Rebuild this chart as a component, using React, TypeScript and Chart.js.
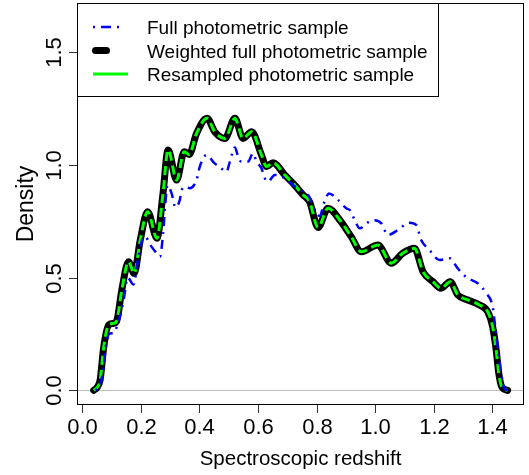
import React, { useEffect, useRef } from "react";
import { Chart, registerables } from "chart.js";
Chart.register(...registerables);

// ---- data ----
const fullZ = [0.045, 0.060, 0.073, 0.080, 0.092, 0.107, 0.118, 0.141, 0.155, 0.175, 0.190, 0.204, 0.212, 0.235, 0.254, 0.265, 0.276, 0.283, 0.291, 0.305, 0.318, 0.333, 0.339, 0.356, 0.367, 0.390, 0.401, 0.424, 0.452, 0.469, 0.492, 0.504, 0.521, 0.532, 0.543, 0.566, 0.583, 0.595, 0.612, 0.623, 0.634, 0.657, 0.691, 0.719, 0.754, 0.771, 0.782, 0.799, 0.810, 0.827, 0.842, 0.873, 0.901, 0.913, 0.930, 0.947, 0.975, 0.995, 1.021, 1.043, 1.077, 1.117, 1.140, 1.157, 1.185, 1.220, 1.254, 1.282, 1.311, 1.350, 1.379, 1.401, 1.407, 1.418, 1.430, 1.441, 1.452];
const fullDensity = [0.0, 0.02, 0.105, 0.19, 0.25, 0.254, 0.282, 0.40, 0.50, 0.47, 0.58, 0.667, 0.685, 0.64, 0.608, 0.593, 0.697, 0.82, 0.91, 0.874, 0.812, 0.845, 0.889, 0.904, 0.897, 0.933, 0.992, 1.044, 1.007, 0.992, 0.970, 1.015, 1.078, 1.037, 1.015, 1.015, 1.052, 1.015, 0.985, 0.941, 0.926, 0.956, 0.941, 0.911, 0.882, 0.867, 0.837, 0.786, 0.774, 0.837, 0.874, 0.845, 0.808, 0.800, 0.756, 0.719, 0.745, 0.755, 0.741, 0.689, 0.711, 0.744, 0.734, 0.667, 0.623, 0.578, 0.586, 0.541, 0.502, 0.475, 0.431, 0.371, 0.312, 0.194, 0.075, 0.009, 0.0];

const weightedZ = [0.039, 0.050, 0.061, 0.073, 0.090, 0.107, 0.118, 0.135, 0.158, 0.177, 0.198, 0.223, 0.255, 0.275, 0.293, 0.322, 0.348, 0.365, 0.390, 0.426, 0.452, 0.487, 0.521, 0.549, 0.578, 0.612, 0.629, 0.651, 0.691, 0.725, 0.754, 0.776, 0.805, 0.839, 0.879, 0.918, 0.953, 1.009, 1.055, 1.094, 1.134, 1.163, 1.197, 1.225, 1.256, 1.282, 1.316, 1.356, 1.384, 1.401, 1.413, 1.422, 1.433, 1.452];
const weightedDensity = [0.0, 0.012, 0.046, 0.19, 0.29, 0.297, 0.31, 0.445, 0.571, 0.519, 0.667, 0.793, 0.675, 0.866, 1.067, 0.933, 1.059, 1.047, 1.14, 1.207, 1.148, 1.118, 1.207, 1.118, 1.148, 1.044, 0.993, 1.010, 0.956, 0.911, 0.867, 0.837, 0.723, 0.808, 0.756, 0.682, 0.615, 0.645, 0.564, 0.608, 0.630, 0.527, 0.482, 0.453, 0.482, 0.423, 0.401, 0.379, 0.349, 0.282, 0.179, 0.075, 0.013, 0.0];

const resampledZ = weightedZ;
const resampledDensity = weightedDensity;

const xTicks = [0.0, 0.2, 0.4, 0.6, 0.8, 1.0, 1.2, 1.4];
const yTicks = [0.0, 0.5, 1.0, 1.5];
const xTitle = "Spectroscopic redshift";
const yTitle = "Density";
const legendLabels = ["Full photometric sample", "Weighted full photometric sample", "Resampled photometric sample"];

const FONT = "'Liberation Sans', Arial, Helvetica, sans-serif";

const toPts = (xs: number[], ys: number[]) => xs.map((x, i) => ({ x, y: ys[i] }));

const rPlugin = {
  id: "rStyle",
  beforeDatasetsDraw(chart: any) {
    const { ctx, chartArea } = chart;
    const y0 = chart.scales.y.getPixelForValue(0);
    ctx.save();
    ctx.strokeStyle = "#bebebe";
    ctx.lineWidth = 1;
    ctx.beginPath();
    ctx.moveTo(chartArea.left, Math.round(y0) + 0.5);
    ctx.lineTo(chartArea.right, Math.round(y0) + 0.5);
    ctx.stroke();
    ctx.restore();
  },
  afterDraw(chart: any) {
    const { ctx, chartArea } = chart;
    const xs = chart.scales.x;
    const ys = chart.scales.y;
    ctx.save();
    // box
    ctx.strokeStyle = "#000";
    ctx.lineWidth = 1;
    ctx.strokeRect(chartArea.left + 0.5, chartArea.top + 0.5, chartArea.right - chartArea.left - 1, chartArea.bottom - chartArea.top - 1);
    // x ticks
    ctx.strokeStyle = "#333";
    ctx.fillStyle = "#000";
    ctx.font = `22px ${FONT}`;
    ctx.textAlign = "center";
    ctx.textBaseline = "alphabetic";
    xTicks.forEach((t) => {
      const px = Math.round(xs.getPixelForValue(t)) + 0.5;
      ctx.beginPath();
      ctx.moveTo(px, chartArea.bottom);
      ctx.lineTo(px, chartArea.bottom + 8);
      ctx.stroke();
      ctx.fillText(t.toFixed(1), px, 433.5);
    });
    // y ticks
    yTicks.forEach((t) => {
      const py = Math.round(ys.getPixelForValue(t)) + 0.5;
      ctx.beginPath();
      ctx.moveTo(chartArea.left, py);
      ctx.lineTo(chartArea.left - 8, py);
      ctx.stroke();
      ctx.save();
      ctx.translate(61, py);
      ctx.rotate(-Math.PI / 2);
      ctx.fillText(t.toFixed(1), 0, 0);
      ctx.restore();
    });
    // titles
    ctx.font = `20.5px ${FONT}`;
    ctx.fillText(xTitle, (chartArea.left + chartArea.right) / 2, 465);
    ctx.save();
    ctx.font = `23px ${FONT}`;
    ctx.translate(32.5, (chartArea.top + chartArea.bottom) / 2);
    ctx.rotate(-Math.PI / 2);
    ctx.fillText(yTitle, 0, 0);
    ctx.restore();

    // legend
    ctx.fillStyle = "#fff";
    ctx.fillRect(77, 3, 361.5, 93.5);
    ctx.strokeStyle = "#000";
    ctx.lineWidth = 1;
    ctx.strokeRect(77.5, 3.5, 361, 93);
    const rows = [27, 50.5, 74];
    // blue
    ctx.strokeStyle = "#0000ff";
    ctx.lineWidth = 2.5;
    ctx.setLineDash([2, 6, 10, 6]);
    ctx.beginPath();
    ctx.moveTo(93, rows[0]);
    ctx.lineTo(123, rows[0]);
    ctx.stroke();
    ctx.setLineDash([]);
    // black
    ctx.strokeStyle = "#000";
    ctx.lineWidth = 7;
    ctx.lineCap = "round";
    ctx.beginPath();
    ctx.moveTo(95.5, rows[1]);
    ctx.lineTo(106.5, rows[1]);
    ctx.stroke();
    ctx.lineCap = "butt";
    // green
    ctx.strokeStyle = "#00ff00";
    ctx.lineWidth = 3;
    ctx.beginPath();
    ctx.moveTo(93, rows[2]);
    ctx.lineTo(128, rows[2]);
    ctx.stroke();
    ctx.fillStyle = "#000";
    ctx.font = `19px ${FONT}`;
    ctx.textAlign = "left";
    legendLabels.forEach((l, i) => ctx.fillText(l, 147, rows[i] + 7));
    ctx.restore();
  },
};

export default function App() {
  const ref = useRef<HTMLCanvasElement | null>(null);
  useEffect(() => {
    document.body.style.margin = "0";
    const canvas = ref.current!;
    const chart = new Chart(canvas, {
      type: "line",
      data: {
        datasets: [
          {
            label: legendLabels[0],
            data: toPts(fullZ, fullDensity),
            borderColor: "#0000ff",
            borderWidth: 2.5,
            borderDash: [2, 6, 9, 6],
            pointRadius: 0,
            fill: false,
            cubicInterpolationMode: "monotone",
          },
          {
            label: legendLabels[2],
            data: toPts(resampledZ, resampledDensity),
            borderColor: "#00ff00",
            borderWidth: 3,
            borderDash: [9, 5],
            pointRadius: 0,
            fill: false,
            cubicInterpolationMode: "monotone",
          },
          {
            label: legendLabels[1],
            data: toPts(weightedZ, weightedDensity),
            borderColor: "#000000",
            borderWidth: 7,
            borderJoinStyle: "round",
            borderCapStyle: "round",
            pointRadius: 0,
            fill: false,
            cubicInterpolationMode: "monotone",
          },
        ],
      },
      options: {
        responsive: false,
        animation: false,
        devicePixelRatio: 1,
        layout: { padding: { left: 77, top: 3, right: 5, bottom: 70 } },
        scales: {
          x: { type: "linear", min: -0.018, max: 1.508, display: false },
          y: { type: "linear", min: -0.0652, max: 1.7189, display: false },
        },
        plugins: { legend: { display: false }, tooltip: { enabled: false } },
      },
      plugins: [rPlugin],
    } as any);
    return () => chart.destroy();
  }, []);
  return (
    <div style={{ width: 529, height: 475, background: "#fff" }}>
      <canvas ref={ref} width={529} height={475} style={{ display: "block" }} />
    </div>
  );
}
